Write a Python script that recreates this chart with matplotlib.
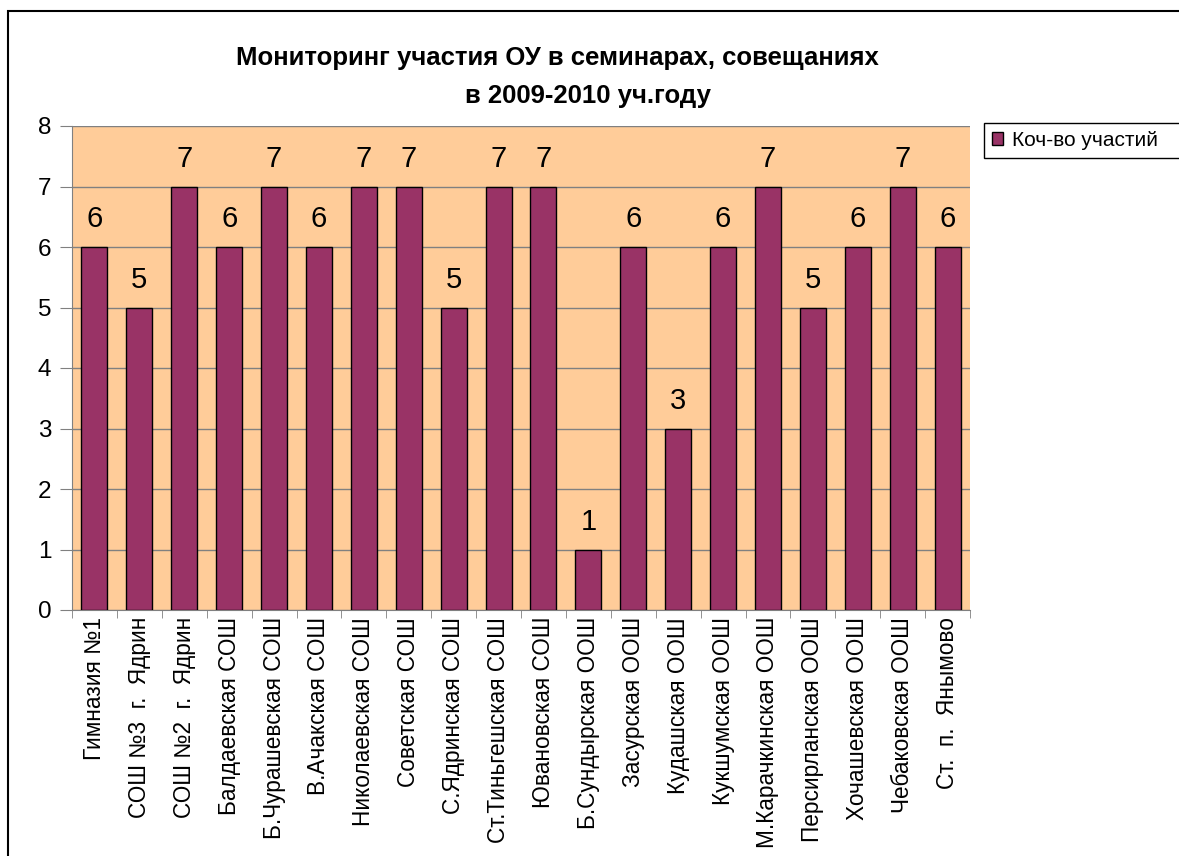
import matplotlib
matplotlib.use("Agg")
import matplotlib.pyplot as plt
from matplotlib.patches import Rectangle, Patch

plt.rcParams['font.family'] = ['Liberation Sans', 'DejaVu Sans']

categories = ["Гимназия №1", "СОШ №3  г.  Ядрин", "СОШ №2  г.  Ядрин", "Балдаевская СОШ",
              "Б.Чурашевская СОШ", "В.Ачакская СОШ", "Николаевская СОШ", "Советская СОШ",
              "С.Ядринская СОШ", "Ст.Тиньгешская СОШ", "Ювановская СОШ", "Б.Сундырская ООШ",
              "Засурская ООШ", "Кудашская ООШ", "Кукшумская ООШ", "М.Карачкинская ООШ",
              "Персирланская ООШ", "Хочашевская ООШ", "Чебаковская ООШ", "Ст.  п.  Янымово"]
values = [6, 5, 7, 6, 7, 6, 7, 7, 5, 7, 7, 1, 6, 3, 6, 7, 5, 6, 7, 6]
series_name = "Коч-во участий"
title_lines = ["Мониторинг участия ОУ в семинарах, совещаниях", "в 2009-2010 уч.году"]

W, H = 1179, 856
fig = plt.figure(figsize=(W/100, H/100), dpi=100)
fig.patch.set_facecolor('white')

# outer frame
fig.patches.append(Rectangle((8/W, -0.01), 1.1, 1 - 11/H + 0.01, transform=fig.transFigure,
                             fill=False, edgecolor='black', linewidth=1.5))

ax = fig.add_axes([72/W, 1 - 610/H, (970-72)/W, (610-126)/H])
ax.set_facecolor('#FFCC99')
x = list(range(len(categories)))
bars = ax.bar(x, values, width=0.58, color='#993366', edgecolor='black', linewidth=1, zorder=3)
ax.set_xlim(-0.5, len(categories) - 0.5)
ax.set_ylim(0, 8)
ax.set_yticks(range(0, 9))
ax.yaxis.grid(True, color='#808080', linewidth=1, zorder=0)
ax.set_axisbelow(True)
for s in ['top', 'right']:
    ax.spines[s].set_visible(False)
ax.spines['left'].set_color('#808080')
ax.spines['bottom'].set_color('#808080')
ax.tick_params(axis='y', labelsize=17.5, length=9, color='#808080', pad=6)
ax.set_xticks([i - 0.5 for i in range(len(categories) + 1)], minor=True)
ax.set_xticks(x)
ax.set_xticklabels(categories, rotation=90, fontsize=16.3, va='top', ha='center')
ax.tick_params(axis='x', which='major', length=0, pad=5)
ax.tick_params(axis='x', which='minor', length=6, color='#808080')

for b, v in zip(bars, values):
    ax.annotate(str(v), (b.get_x() + b.get_width()/2, v), xytext=(0, 10),
                textcoords='offset points', ha='center', va='bottom', fontsize=21)

fig.text(557/W, 1 - 58/H, title_lines[0], ha='center', va='center', fontsize=18.5,
         fontweight='bold')
fig.text(588/W, 1 - 96/H, title_lines[1], ha='center', va='center', fontsize=18.5,
         fontweight='bold')

# legend frame extends past the right edge as in the reference
fig.patches.append(Rectangle((984/W, 1 - 158/H), 0.3, 35/H, transform=fig.transFigure,
                             facecolor='white', edgecolor='black', linewidth=1, zorder=5))
leg = fig.legend(handles=[Patch(facecolor='#993366', edgecolor='black', label=series_name)],
                 loc='center left', bbox_to_anchor=(992/W, 1 - 140.5/H), fontsize=15,
                 frameon=False, handlelength=0.55, handleheight=0.55, handletextpad=0.4,
                 borderpad=0, borderaxespad=0)
leg.set_zorder(6)

fig.savefig('out.png', dpi=100)
